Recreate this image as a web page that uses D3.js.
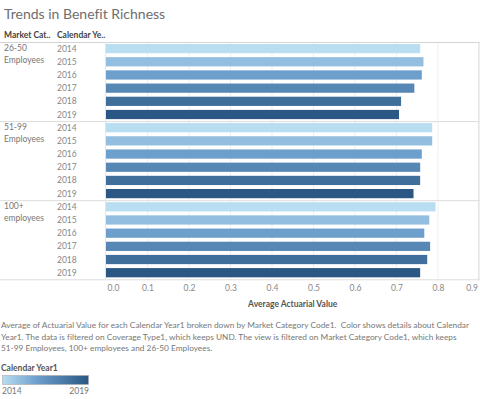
<!DOCTYPE html>
<html>
<head>
<meta charset="utf-8">
<script src="https://cdn.jsdelivr.net/npm/d3@7"></script>
<style>
  body { margin: 0; background: #fff; }
  svg { font-family: "Lato", "Open Sans", sans-serif; font-variant-ligatures: none; }
</style>
</head>
<body>
<svg width="480" height="399"></svg>
<script>
const categories = ["26-50 Employees", "51-99 Employees", "100+ employees"];
const categoryLines = [["26-50", "Employees"], ["51-99", "Employees"], ["100+", "employees"]];
const years = [2014, 2015, 2016, 2017, 2018, 2019];
const values26_50 = [0.757, 0.765, 0.761, 0.743, 0.711, 0.706];
const values51_99 = [0.786, 0.786, 0.761, 0.757, 0.757, 0.741];
const values100 = [0.794, 0.779, 0.767, 0.781, 0.774, 0.757];
const xTicks = [0, 0.1, 0.2, 0.3, 0.4, 0.5, 0.6, 0.7, 0.8, 0.9];
const captionLines = [
  "Average of Actuarial Value for each Calendar Year1 broken down by Market Category Code1.  Color shows details about Calendar",
  "Year1. The data is filtered on Coverage Type1, which keeps UND. The view is filtered on Market Category Code1, which keeps",
  "51-99 Employees, 100+ employees and 26-50 Employees."
];

const seriesByCat = [values26_50, values51_99, values100];
let data = [];
categories.forEach((c, i) => {
  years.forEach((y, j) => data.push({ cat: c, year: y, value: seriesByCat[i][j] }));
});

const svg = d3.select("svg");
const attr_area = { left: 106, right: 479.5, top: 42, panelH: 79.1 };

// sequential blue, like Tableau's default
const color = d3.scaleLinear()
  .domain([2014, 2016, 2019])
  .range(["#b9ddf1", "#6d9fcc", "#2a5783"])
  .interpolate(d3.interpolateRgb);

const scaleX = d3.scaleLinear().domain([0, 0.9]).range([attr_area.left, attr_area.right]);
const scaleCat = d3.scaleBand().domain(categories)
  .range([attr_area.top, attr_area.top + attr_area.panelH * categories.length]);
const scaleYear = d3.scaleBand().domain(years).range([0, scaleCat.bandwidth()]).paddingInner(0.3).paddingOuter(0.15);
const bottom = scaleCat.range()[1];

// title
svg.append("text").attr("x", 4).attr("y", 19)
  .style("font-size", "14px").style("fill", "#6e6e6e").text("Trends in Benefit Richness");

// headers
svg.append("text").attr("x", 4).attr("y", 38).style("font-size", "8.5px").style("font-weight", "bold")
  .style("fill", "#444").text("Market Cat..");
svg.append("text").attr("x", 57).attr("y", 38).style("font-size", "8.5px").style("font-weight", "bold")
  .style("fill", "#444").text("Calendar Ye..");

// gridlines
svg.append("g").selectAll("line").data(xTicks.slice(1)).enter().append("line")
  .attr("x1", d => scaleX(d)).attr("x2", d => scaleX(d))
  .attr("y1", attr_area.top).attr("y2", bottom)
  .style("stroke", "#efefef").style("stroke-width", 1);

// horizontal separators
svg.append("g").selectAll("line").data(d3.range(categories.length + 1)).enter().append("line")
  .attr("x1", 0).attr("x2", 480)
  .attr("y1", d => attr_area.top + d * attr_area.panelH + 0.5)
  .attr("y2", d => attr_area.top + d * attr_area.panelH + 0.5)
  .style("stroke", d => d === 0 ? "#d4d4d4" : "#dcdcdc");
svg.append("line").attr("x1", attr_area.left - 0.5).attr("x2", attr_area.left - 0.5)
  .attr("y1", attr_area.top).attr("y2", bottom).style("stroke", "#e6e6e6");
svg.append("line").attr("x1", 478.5).attr("x2", 478.5)
  .attr("y1", attr_area.top).attr("y2", bottom).style("stroke", "#e6e6e6");

// category labels
categories.forEach((c, i) => {
  const t = svg.append("text").attr("x", 4).attr("y", scaleCat(c) + 9)
    .style("font-size", "8.5px").style("fill", "#777");
  categoryLines[i].forEach((l, k) => t.append("tspan").attr("x", 4).attr("dy", k === 0 ? 0 : 12).text(l));
});

// year labels
svg.append("g").selectAll("text").data(data).enter().append("text")
  .attr("x", 57)
  .attr("y", d => scaleCat(d.cat) + scaleYear(d.year) + scaleYear.bandwidth() / 2 + 3)
  .style("font-size", "8.5px").style("fill", "#888").text(d => d.year);

// bars
svg.append("g").selectAll("rect").data(data).enter().append("rect")
  .attr("x", scaleX(0))
  .attr("y", d => scaleCat(d.cat) + scaleYear(d.year))
  .attr("width", d => scaleX(d.value) - scaleX(0))
  .attr("height", scaleYear.bandwidth())
  .style("fill", d => color(d.year));

// x axis labels
const axisX = d3.axisBottom(scaleX).tickValues(xTicks).tickFormat(d3.format(".1f")).tickSize(0);
const gx = svg.append("g").attr("transform", `translate(0, ${bottom + 3})`).call(axisX);
gx.select(".domain").remove();
gx.selectAll("text").style("font-size", "8.5px").style("fill", "#888")
  .style("font-family", "Lato, 'Open Sans', sans-serif")
  .attr("text-anchor", (d, i) => i === 0 ? "start" : (i === xTicks.length - 1 ? "end" : "middle"))
  .attr("dx", (d, i) => i === 0 ? 1 : (i === xTicks.length - 1 ? -2 : 0));

svg.append("text").attr("x", (attr_area.left + attr_area.right) / 2).attr("y", bottom + 28)
  .attr("text-anchor", "middle").style("font-size", "8.5px").style("font-weight", "bold")
  .style("fill", "#555").text("Average Actuarial Value");

// caption
svg.append("g").selectAll("text").data(captionLines).enter().append("text")
  .attr("x", 1).attr("y", (d, i) => 328 + i * 11.5)
  .style("font-size", "8.3px").style("fill", "#777").style("white-space", "pre").text(d => d);

// legend
svg.append("text").attr("x", 1).attr("y", 371).style("font-size", "8.5px").style("font-weight", "bold")
  .style("fill", "#555").text("Calendar Year1");
const grad = svg.append("defs").append("linearGradient").attr("id", "lg");
color.domain().forEach(y => {
  grad.append("stop").attr("offset", ((y - 2014) / 5 * 100) + "%").attr("stop-color", color(y));
});
svg.append("rect").attr("x", 2.5).attr("y", 375.5).attr("width", 86).attr("height", 9)
  .style("fill", "url(#lg)").style("stroke", "#aaa").style("stroke-width", 0.6);
svg.append("text").attr("x", 2).attr("y", 394).style("font-size", "8.5px").style("fill", "#777").text(years[0]);
svg.append("text").attr("x", 89).attr("y", 394).attr("text-anchor", "end").style("font-size", "8.5px")
  .style("fill", "#777").text(years[years.length - 1]);
</script>
</body>
</html>
